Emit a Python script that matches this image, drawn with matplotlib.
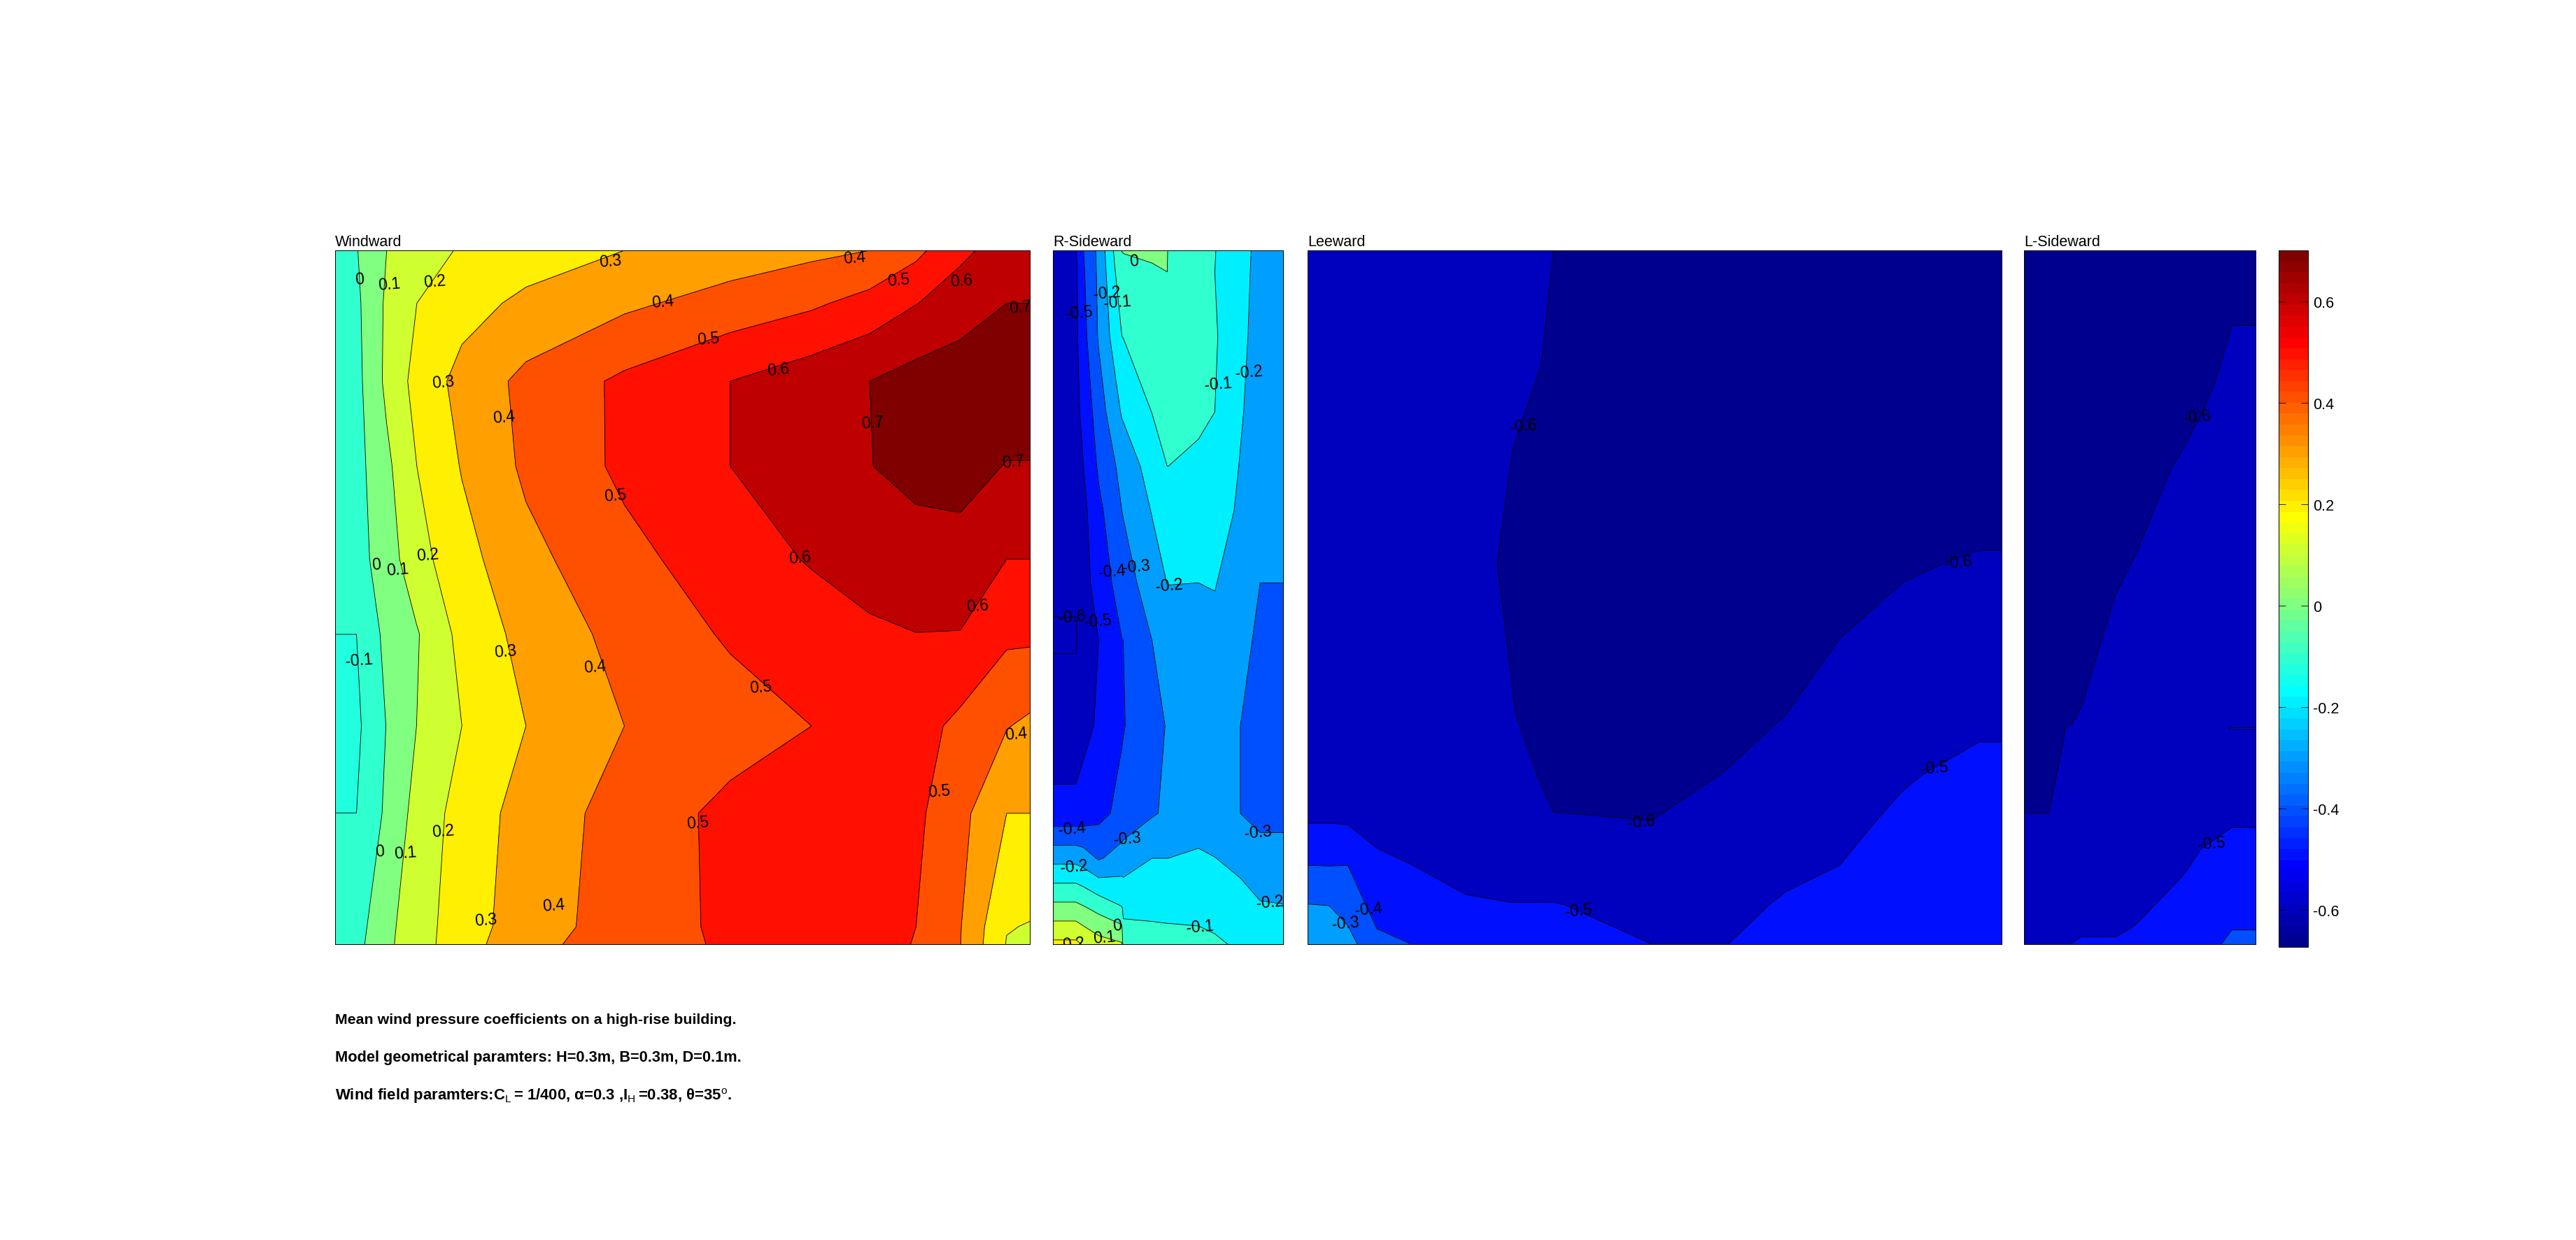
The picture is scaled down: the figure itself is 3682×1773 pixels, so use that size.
import numpy as np
import matplotlib
matplotlib.use('Agg')
import matplotlib.pyplot as plt
from matplotlib.cm import ScalarMappable
from matplotlib.colors import ListedColormap, Normalize

plt.rcParams['font.family'] = ['Liberation Sans', 'DejaVu Sans']
plt.rcParams['axes.unicode_minus'] = False
plt.rcParams['mathtext.fontset'] = 'custom'
plt.rcParams['mathtext.rm'] = 'Liberation Sans'
plt.rcParams['mathtext.it'] = 'DejaVu Serif:italic'
plt.rcParams['mathtext.bf'] = 'Liberation Sans:bold'
plt.rcParams['mathtext.default'] = 'regular'

W, H = 3682, 1774

# contour levels shared by all faces
levels = [-0.6, -0.5, -0.4, -0.3, -0.2, -0.1, 0.0, 0.1, 0.2, 0.3, 0.4, 0.5, 0.6, 0.7]
cbar_ticks = [-0.6, -0.4, -0.2, 0, 0.2, 0.4, 0.6]
clim = (-0.673, 0.70)

# Windward: grid (x across, y down the face)
wind_x = [29, 75, 140, 205, 302, 440, 652, 880, 1055, 1180, 1280, 1375, 1475, 1525]
wind_y = [58, 170, 335, 515, 712, 870, 1065, 1250, 1490, 1527]
wind_z = [
    [-.05, -.005, .10, .155, .21, .25, .30, .345, .377, .40, .474, .58, .64, .64],
    [-.06, -.02, .116, .20, .263, .322, .381, .44, .484, .536, .597, .647, .70, .70],
    [-.06, -.03, .122, .234, .333, .426, .519, .60, .658, .70, .74, .76, .77, .77],
    [-.08, -.035, .078, .20, .306, .418, .52, .60, .656, .697, .735, .74, .695, .695],
    [-.09, -.04, .052, .164, .265, .371, .472, .552, .608, .64, .65, .66, .60, .60],
    [-.0999, -.0999, .028, .092, .231, .332, .433, .512, .55, .585, .599, .597, .52, .52],
    [-.12, -.12, .003, .101, .20, .30, .40, .457, .50, .535, .54, .475, .405, .38],
    [-.0999, -.0999, .018, .135, .24, .34, .44, .526, .56, .56, .52, .43, .30, .30],
    [-.05, -.04, .075, .155, .254, .35, .448, .52, .53, .52, .50, .405, .205, .195],
    [-.05, -.03, .08, .158, .257, .37, .45, .515, .525, .515, .498, .402, .195, .18],
]
wind_labels = [
    (82, 118, '0'), (145, 130, '0.1'), (243, 123, '0.2'), (262, 337, '0.3'), (393, 410, '0.4'),
    (632, 577, '0.5'), (983, 310, '0.6'), (1187, 423, '0.7'), (1490, 505, '0.7'), (1505, 178, '0.7'),
    (622, 80, '0.3'), (1147, 73, '0.4'), (735, 167, '0.4'), (833, 245, '0.5'), (1243, 120, '0.5'),
    (1378, 122, '0.6'), (1030, 708, '0.6'), (1412, 810, '0.6'), (117, 723, '0'), (163, 733, '0.1'),
    (228, 703, '0.2'), (395, 907, '0.3'), (588, 940, '0.4'), (945, 982, '0.5'), (80, 925, '-0.1'),
    (1495, 1082, '0.4'), (1330, 1203, '0.5'), (810, 1270, '0.5'), (262, 1288, '0.2'), (125, 1330, '0'),
    (180, 1333, '0.1'), (353, 1475, '0.3'), (500, 1445, '0.4'),
]

# R-Sideward
rside_x = [73, 172, 205, 270, 370, 376, 500, 565, 570, 700, 770, 880, 965, 1064]
rside_y = [58, 105, 240, 400, 515, 610, 762, 885, 1065, 1250, 1345, 1450, 1527]
rside_z = [
    [-.58, -.505, -.40, -.275, .002, .005, .02, .03, -.04, -.075, -.097, -.17, -.225, -.27],
    [-.58, -.52, -.41, -.28, -.03, -.03, -.015, -.001, -.04, -.075, -.10, -.17, -.23, -.27],
    [-.58, -.52, -.43, -.29, -.10, -.098, -.075, -.07, -.07, -.075, -.09, -.175, -.24, -.27],
    [-.59, -.53, -.47, -.35, -.19, -.185, -.098, -.08, -.08, -.085, -.10, -.19, -.25, -.28],
    [-.595, -.55, -.50, -.385, -.27, -.265, -.155, -.10, -.10, -.115, -.125, -.205, -.25, -.28],
    [-.595, -.56, -.525, -.425, -.30, -.295, -.195, -.17, -.17, -.15, -.155, -.215, -.26, -.285],
    [-.59, -.59, -.53, -.465, -.35, -.345, -.25, -.198, -.197, -.20, -.195, -.255, -.30, -.30],
    [-.607, -.607, -.565, -.50, -.402, -.40, -.30, -.28, -.28, -.25, -.23, -.27, -.32, -.33],
    [-.56, -.56, -.525, -.488, -.41, -.405, -.33, -.295, -.293, -.26, -.27, -.30, -.34, -.34],
    [-.47, -.47, -.46, -.43, -.37, -.365, -.31, -.285, -.285, -.27, -.275, -.30, -.33, -.33],
    [-.232, -.232, -.25, -.31, -.26, -.255, -.20, -.20, -.20, -.18, -.198, -.23, -.26, -.26],
    [.03, .03, .01, -.03, -.095, -.113, -.115, -.115, -.115, -.115, -.125, -.155, -.19, -.195],
    [.2225, .2225, .19, .14, .11, -.07, -.075, -.08, -.08, -.085, -.09, -.11, -.14, -.15],
]
rside_labels = [
    (422, 80, '0'), (305, 148, '-0.2'), (350, 168, '-0.1'), (185, 190, '-0.5'), (785, 340, '-0.1'),
    (917, 315, '-0.2'), (325, 738, '-0.4'), (432, 727, '-0.3'), (572, 767, '-0.2'), (155, 833, '-0.6'),
    (265, 842, '-0.5'), (155, 1283, '-0.4'), (392, 1303, '-0.3'), (955, 1290, '-0.3'), (165, 1363, '-0.2'),
    (1008, 1438, '-0.2'), (705, 1490, '-0.1'), (350, 1487, '0'), (295, 1512, '0.1'), (160, 1525, '0.2'),
]

# Leeward
lee_x = [28, 75, 115, 178, 370, 470, 558, 770, 935, 1060, 1175, 1310, 1475, 1524]
lee_y = [58, 300, 480, 720, 1040, 1170, 1270, 1360, 1443, 1527]
lee_z = [
    [-.55, -.555, -.56, -.565, -.58, -.59, -.60, -.625, -.645, -.655, -.66, -.665, -.67, -.67],
    [-.55, -.555, -.56, -.565, -.585, -.593, -.603, -.63, -.65, -.66, -.665, -.67, -.67, -.67],
    [-.55, -.555, -.56, -.57, -.59, -.60, -.612, -.64, -.655, -.655, -.655, -.65, -.64, -.64],
    [-.55, -.555, -.56, -.565, -.59, -.605, -.615, -.635, -.64, -.635, -.625, -.606, -.595, -.595],
    [-.54, -.545, -.55, -.555, -.585, -.599, -.612, -.63, -.62, -.60, -.575, -.56, -.525, -.525],
    [-.53, -.535, -.54, -.54, -.565, -.585, -.61, -.62, -.597, -.57, -.55, -.51, -.47, -.47],
    [-.501, -.501, -.505, -.53, -.55, -.57, -.597, -.599, -.57, -.54, -.525, -.48, -.44, -.44],
    [-.40, -.402, -.40, -.48, -.53, -.54, -.55, -.56, -.545, -.52, -.50, -.46, -.43, -.43],
    [-.299, -.302, -.34, -.44, -.49, -.498, -.497, -.525, -.525, -.49, -.47, -.45, -.42, -.42],
    [-.22, -.24, -.265, -.375, -.44, -.46, -.47, -.50, -.50, -.46, -.44, -.43, -.41, -.41],
]
lee_labels = [
    (492, 430, '-0.6'), (1430, 718, '-0.6'), (747, 1267, '-0.6'), (1380, 1153, '-0.5'),
    (612, 1455, '-0.5'), (160, 1453, '-0.4'), (110, 1483, '-0.3'),
]

# L-Sideward
lside_x = [69, 175, 315, 460, 550, 740, 830, 962, 1064]
lside_y = [58, 217, 330, 520, 790, 1025, 1062, 1070, 1078, 1250, 1280, 1370, 1497, 1527]
lside_z = [
    [-.67, -.67, -.67, -.665, -.66, -.65, -.64, -.625, -.62],
    [-.67, -.67, -.665, -.655, -.65, -.63, -.62, -.60, -.60],
    [-.665, -.665, -.66, -.65, -.645, -.625, -.61, -.59, -.59],
    [-.66, -.655, -.645, -.63, -.62, -.595, -.585, -.57, -.565],
    [-.65, -.64, -.625, -.60, -.59, -.57, -.56, -.55, -.545],
    [-.63, -.615, -.60, -.585, -.575, -.555, -.545, -.53, -.525],
    [-.625, -.612, -.595, -.58, -.572, -.552, -.54, -.525, -.52],
    [-.62, -.61, -.59, -.575, -.57, -.55, -.54, -.495, -.495],
    [-.62, -.61, -.59, -.575, -.57, -.55, -.54, -.525, -.52],
    [-.60, -.60, -.575, -.56, -.555, -.535, -.52, -.51, -.505],
    [-.59, -.59, -.57, -.555, -.55, -.525, -.51, -.50, -.50],
    [-.56, -.56, -.55, -.54, -.53, -.505, -.49, -.47, -.465],
    [-.54, -.53, -.51, -.505, -.497, -.47, -.45, -.40, -.40],
    [-.535, -.52, -.49, -.495, -.49, -.46, -.44, -.38, -.38],
]
lside_labels = [(812, 410, '-0.6'), (875, 1313, '-0.5')]

# matlab's jet(64), matplotlib's own jet puts yellow a bit too late
t = (np.arange(64) + 1) / 64
jet64 = np.clip(np.column_stack([1.5 - np.abs(4 * t - 3), 1.5 - np.abs(4 * t - 2), 1.5 - np.abs(4 * t - 1)]), 0, 1)
cmap = ListedColormap(jet64)
norm = Normalize(vmin=clim[0], vmax=clim[1])


def px_axes(fig, x0, x1, y0, y1):
    # pixel box of the full size image -> figure fractions
    return fig.add_axes([x0 / W, 1 - y1 / H, (x1 - x0) / W, (y1 - y0) / H])


def draw_face(ax, x, y, z, title, labels):
    z = np.array(z)
    # matlab style: each band takes the colour of its lower level, the lowest band the data minimum
    bounds = [-2.0] + levels + [2.0]
    colors = [cmap(norm(max(v, z.min()))) for v in bounds[:-1]]
    ax.contourf(x, y, z, levels=bounds, colors=colors)
    ax.contour(x, y, z, levels=levels, colors='k', linewidths=0.6, linestyles='solid')
    for lx, ly, txt in labels:
        ax.text(lx, ly, txt, fontsize=16.5, rotation=5, ha='center', va='center', clip_on=True)
    ax.set_xlim(x[0], x[-1])
    ax.set_ylim(y[-1], y[0])
    ax.set_xticks([])
    ax.set_yticks([])
    for s in ax.spines.values():
        s.set_linewidth(0.7)
    ax.set_title(title, loc='left', fontsize=15.5, pad=5)


fig = plt.figure(figsize=(W / 100, H / 100), dpi=100, facecolor='white')

draw_face(px_axes(fig, 479, 1472, 359, 1351), wind_x, wind_y, wind_z, 'Windward', wind_labels)
draw_face(px_axes(fig, 1505, 1834, 359, 1351), rside_x, rside_y, rside_z, 'R-Sideward', rside_labels)
draw_face(px_axes(fig, 1869, 2861, 359, 1351), lee_x, lee_y, lee_z, 'Leeward', lee_labels)
draw_face(px_axes(fig, 2893, 3224, 359, 1351), lside_x, lside_y, lside_z, 'L-Sideward', lside_labels)

cax = px_axes(fig, 3257, 3299, 359, 1355)
cb = fig.colorbar(ScalarMappable(norm=norm, cmap=cmap), cax=cax, ticks=cbar_ticks, format='%g')
cb.outline.set_linewidth(0.7)
cax.tick_params(left=True, right=True, direction='in', length=7, width=0.6, labelsize=15.5, pad=5)

fig.text(479 / W, 1 - 1459 / H, 'Mean wind pressure coefficients on a high-rise building.',
         fontsize=15.4, fontweight='bold', va='center')
fig.text(479 / W, 1 - 1513 / H, 'Model geometrical paramters: H=0.3m, B=0.3m, D=0.1m.',
         fontsize=15.7, fontweight='bold', va='center')
fig.text(479 / W, 1 - 1567 / H,
         r'Wind field paramters:C$_{\mathrm{L}}$$\,$= 1/400, $\alpha$=0.3 ,I$_{\mathrm{H}}$$\,$=0.38, $\theta$=35$^{\mathrm{o}}$.',
         fontsize=15.9, fontweight='bold', va='center')

fig.savefig('out.png', dpi=100, facecolor='white')
